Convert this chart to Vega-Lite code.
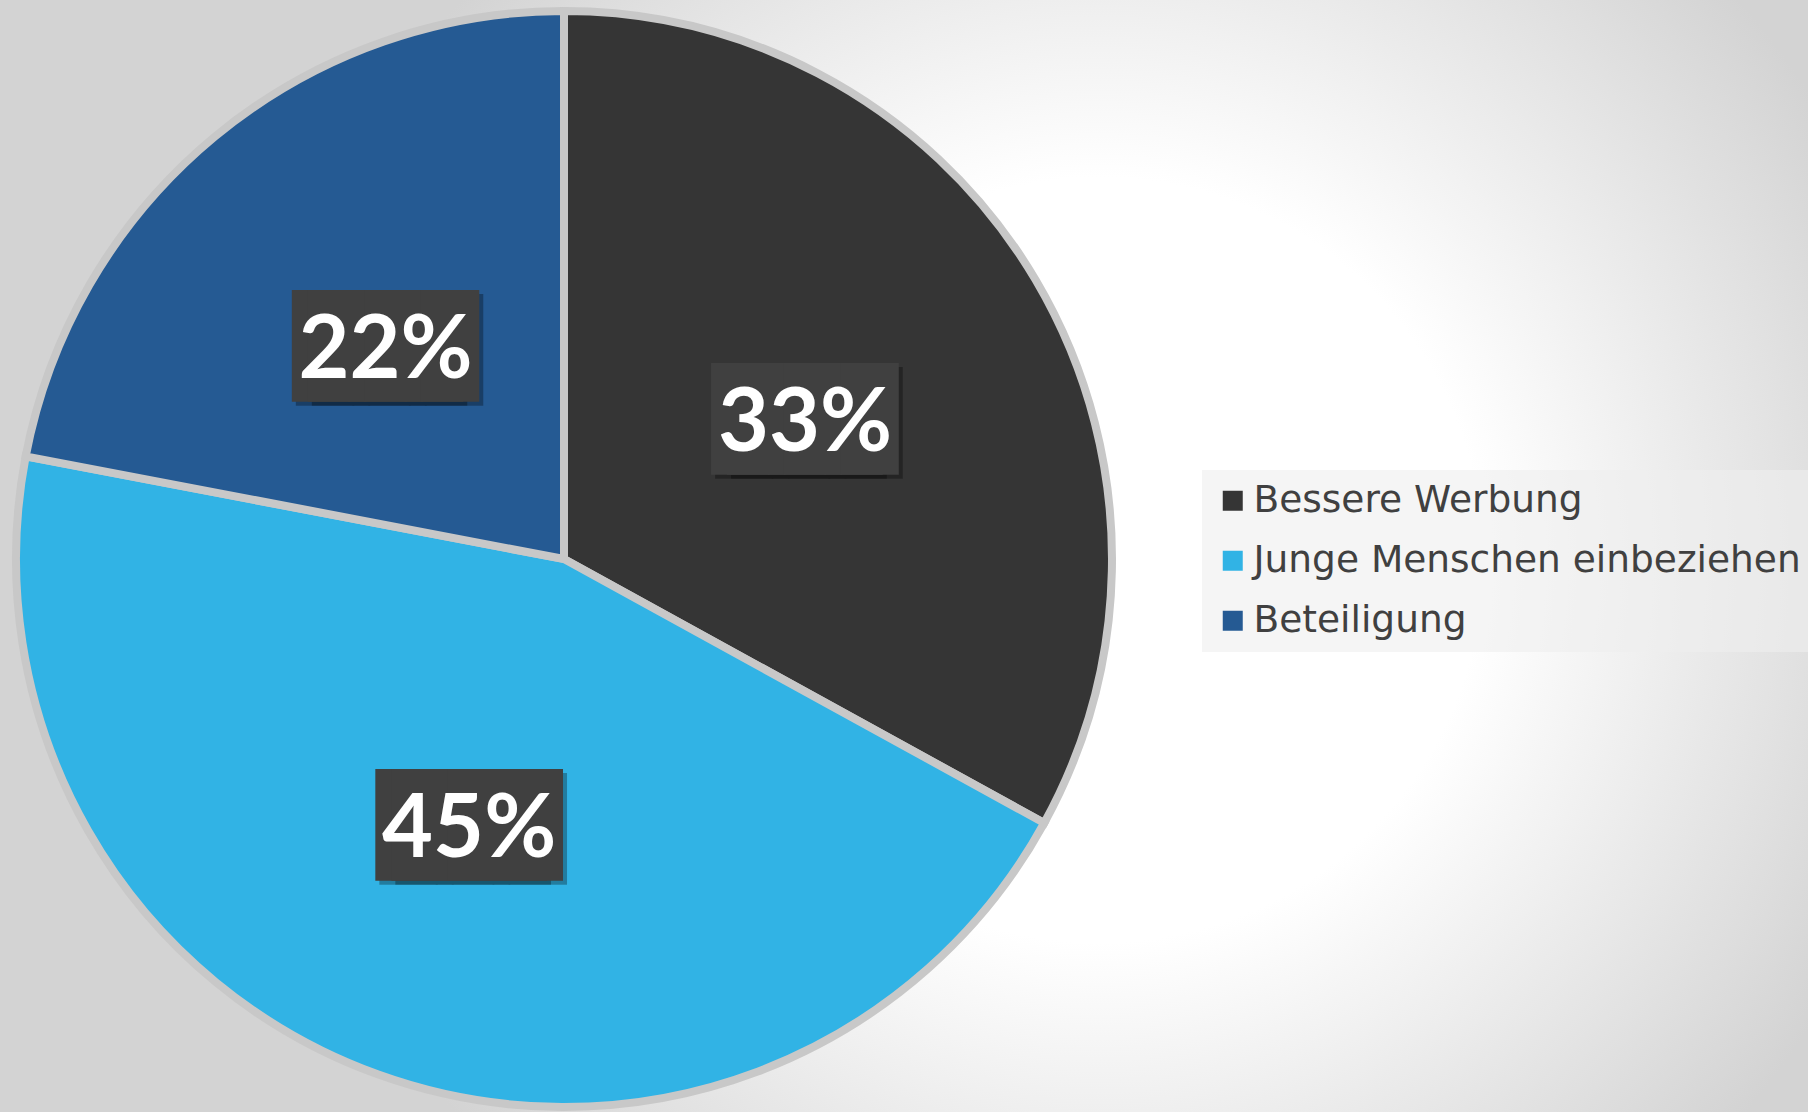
{
  "$schema": "https://vega.github.io/schema/vega-lite/v6.json",
  "width": 2488,
  "height": 1118,
  "autosize": {"type": "none"},
  "padding": {"left": -680, "top": 0, "right": 0, "bottom": -6},
  "background": "#d3d3d3",
  "config": {
    "view": {"stroke": null},
    "legend": {
      "orient": "none",
      "legendX": 1882,
      "legendY": 470,
      "title": null,
      "symbolType": "square",
      "symbolSize": 400,
      "symbolStrokeWidth": 0,
      "labelFont": "DejaVu Sans",
      "labelFontSize": 37.5,
      "labelColor": "#404040",
      "labelOffset": 2,
      "labelLimit": 0,
      "rowPadding": 21,
      "padding": 12,
      "fillColor": "rgba(238,238,238,0.6)"
    }
  },
  "datasets": {
    "shares": [
      {"id": 1, "category": "Bessere Werbung", "share": 0.33},
      {"id": 2, "category": "Junge Menschen einbeziehen", "share": 0.45},
      {"id": 3, "category": "Beteiligung", "share": 0.22}
    ],
    "backdrop": [{"name": "background"}]
  },
  "layer": [
    {
      "data": {"name": "backdrop"},
      "mark": {
        "type": "rect",
        "fill": {
          "gradient": "radial",
          "x1": 0.7154, "y1": 0.5004, "r1": 0,
          "x2": 0.7154, "y2": 0.5004, "r2": 0.3416,
          "stops": [
            {"offset": 0, "color": "#ffffff"},
            {"offset": 0.45, "color": "#ffffff"},
            {"offset": 1, "color": "#d3d3d3"}
          ]
        }
      },
      "encoding": {}
    },
    {
      "data": {"name": "shares"},
      "layer": [
        {
          "mark": {"type": "arc", "outerRadius": 548, "stroke": "#c8c8c8", "strokeWidth": 8},
          "encoding": {
            "theta": {"field": "share", "type": "quantitative", "stack": true},
            "order": {"field": "id", "type": "quantitative"},
            "color": {
              "field": "category",
              "type": "nominal",
              "scale": {
                "domain": ["Bessere Werbung", "Junge Menschen einbeziehen", "Beteiligung"],
                "range": ["#353535", "#31b3e5", "#255a93"]
              },
              "legend": {"title": null}
            }
          }
        },
        {
          "mark": {"type": "text", "font": "DejaVu Sans Mono", "fontSize": 94, "color": "#000000", "opacity": 0.3, "baseline": "middle", "align": "center", "dx": -4, "dy": 11},
          "encoding": {
            "theta": {"field": "share", "type": "quantitative", "stack": true},
            "order": {"field": "id", "type": "quantitative"},
            "radius": {"value": 280},
            "text": {"value": "███"}
          }
        },
        {
          "mark": {"type": "text", "font": "DejaVu Sans Mono", "fontSize": 94, "color": "#000000", "opacity": 0.3, "baseline": "middle", "align": "center", "dx": 12, "dy": 11},
          "encoding": {
            "theta": {"field": "share", "type": "quantitative", "stack": true},
            "order": {"field": "id", "type": "quantitative"},
            "radius": {"value": 280},
            "text": {"value": "███"}
          }
        },
        {
          "mark": {"type": "text", "font": "DejaVu Sans Mono", "fontSize": 94, "color": "#404040", "baseline": "middle", "align": "center", "dx": -8, "dy": 7},
          "encoding": {
            "theta": {"field": "share", "type": "quantitative", "stack": true},
            "order": {"field": "id", "type": "quantitative"},
            "radius": {"value": 280},
            "text": {"value": "███"}
          }
        },
        {
          "mark": {"type": "text", "font": "DejaVu Sans Mono", "fontSize": 94, "color": "#404040", "baseline": "middle", "align": "center", "dx": 8, "dy": 7},
          "encoding": {
            "theta": {"field": "share", "type": "quantitative", "stack": true},
            "order": {"field": "id", "type": "quantitative"},
            "radius": {"value": 280},
            "text": {"value": "███"}
          }
        },
        {
          "mark": {"type": "text", "font": "Lato", "fontWeight": "bold", "fontSize": 88, "color": "#ffffff", "baseline": "middle", "align": "center", "dy": 9},
          "encoding": {
            "theta": {"field": "share", "type": "quantitative", "stack": true},
            "order": {"field": "id", "type": "quantitative"},
            "radius": {"value": 280},
            "text": {"field": "share", "type": "quantitative", "format": ".0%"}
          }
        }
      ]
    }
  ]
}
